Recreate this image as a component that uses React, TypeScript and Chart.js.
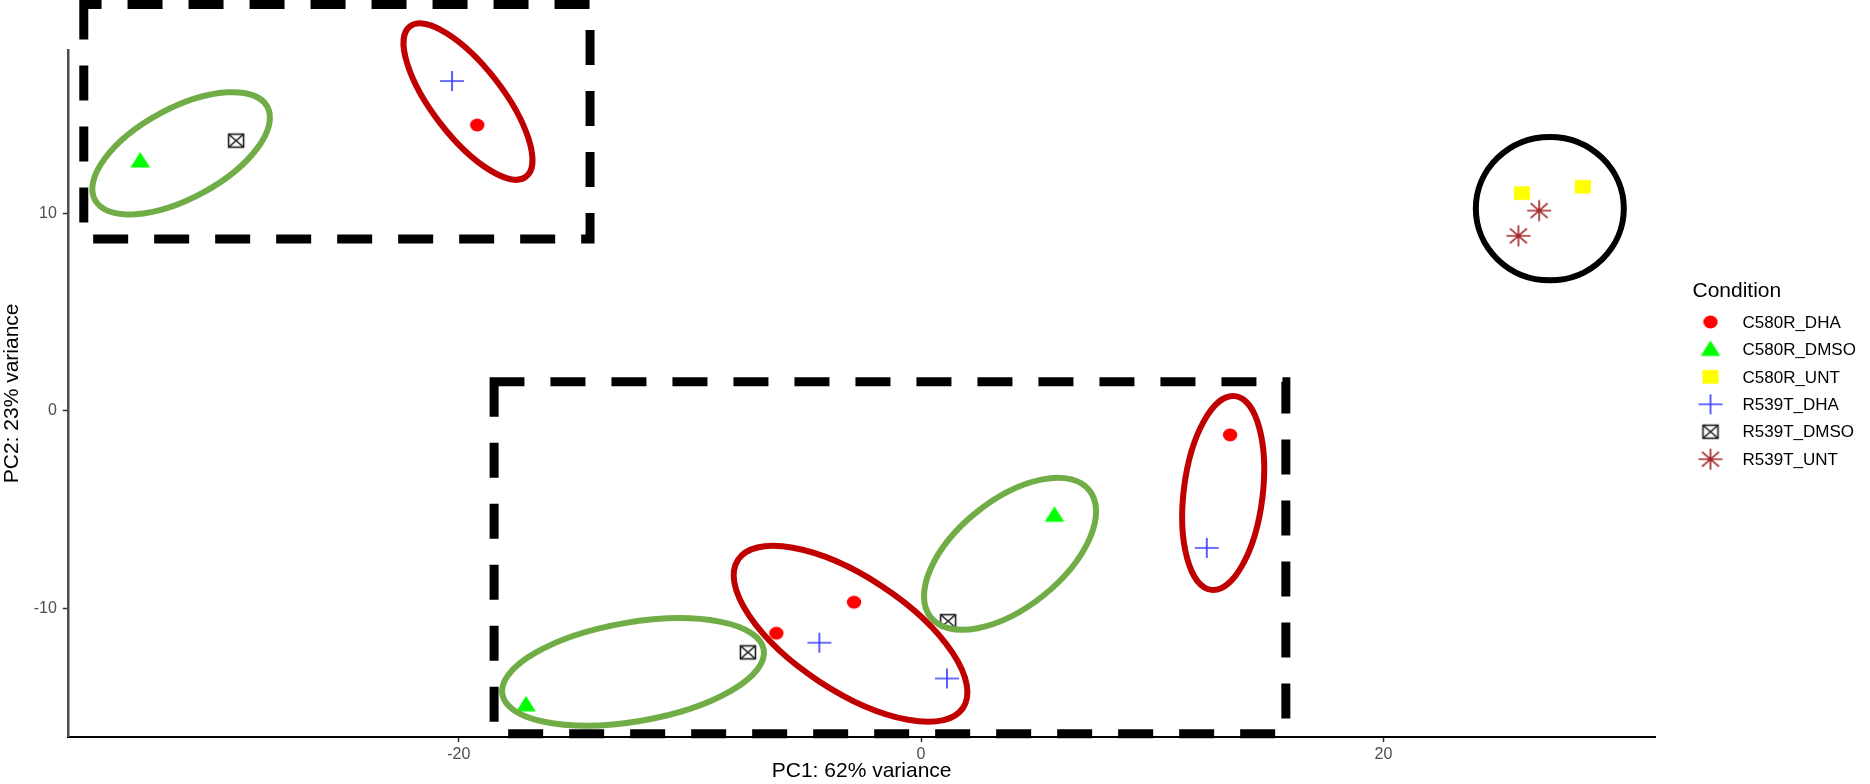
import React, { useEffect, useRef } from "react";
import { Chart, registerables } from "chart.js";

Chart.register(...registerables);

// ---------- data ----------
const conditions = ["C580R_DHA", "C580R_DMSO", "C580R_UNT", "R539T_DHA", "R539T_DMSO", "R539T_UNT"];

const c580rDhaX = [-19.2, 13.37, -6.26, -2.9];
const c580rDhaY = [14.46, -1.23, -11.27, -9.7];

const c580rDmsoX = [-33.78, 5.77, -17.09];
const c580rDmsoY = [12.64, -5.3, -14.9];

const c580rUntX = [25.99, 28.63];
const c580rUntY = [11.01, 11.34];

const r539tDhaX = [-20.29, 12.36, -4.4, 1.12];
const r539tDhaY = [16.69, -6.95, -11.75, -13.56];

const r539tDmsoX = [-29.63, -7.49, 1.17];
const r539tDmsoY = [13.67, -12.24, -10.66];

const r539tUntX = [26.74, 25.84];
const r539tUntY = [10.13, 8.85];

const xTicks = [-20, 0, 20];
const yTicks = [-10, 0, 10];
const xTitle = "PC1: 62% variance";
const yTitle = "PC2: 23% variance";
const legendTitle = "Condition";

const seriesX = [c580rDhaX, c580rDmsoX, c580rUntX, r539tDhaX, r539tDmsoX, r539tUntX];
const seriesY = [c580rDhaY, c580rDmsoY, c580rUntY, r539tDhaY, r539tDmsoY, r539tUntY];
const markerKinds = ["circle", "triangle", "square", "plus", "boxx", "star"];

// ---------- annotation overlay (data coordinates) ----------
const GREEN = "#70AD47";
const RED = "#C00000";
const dashedBoxes = [
  { x0: -36.22, x1: -14.32, y0: 8.69, y1: 20.57 },
  { x0: -18.47, x1: 15.78, y0: -16.36, y1: 1.46 },
];
const ellipses = [
  { cx: -32.01, cy: 13.03, a: 98, b: 45, angle: -28.4, color: GREEN },
  { cx: -19.6, cy: 15.65, a: 95, b: 35.2, angle: 52.3, color: RED },
  { cx: 27.2, cy: 10.23, a: 74, b: 71.7, angle: 0, color: "#000000" },
  { cx: 13.07, cy: -4.17, a: 97.6, b: 39.5, angle: -83, color: RED },
  { cx: 3.85, cy: -7.25, a: 101.6, b: 53.4, angle: -38.7, color: GREEN },
  { cx: -3.05, cy: -11.3, a: 134.7, b: 57, angle: 33.3, color: RED },
  { cx: -12.46, cy: -13.23, a: 132.6, b: 49.5, angle: -9.7, color: GREEN },
];

const FONT = "'Liberation Sans', Arial, Helvetica, sans-serif";

function makeMarker(kind: string): HTMLCanvasElement {
  const c = document.createElement("canvas");
  const W = 28, H = 26;
  c.width = W;
  c.height = H;
  const g = c.getContext("2d")!;
  const cx = W / 2, cy = H / 2;
  g.lineCap = "butt";
  switch (kind) {
    case "circle":
      g.fillStyle = "#ff0000";
      g.beginPath();
      g.ellipse(cx, cy, 7.2, 6.5, 0, 0, Math.PI * 2);
      g.fill();
      break;
    case "triangle":
      g.fillStyle = "#00ff00";
      g.beginPath();
      g.moveTo(cx, cy - 9);
      g.lineTo(cx + 9.8, cy + 6.5);
      g.lineTo(cx - 9.8, cy + 6.5);
      g.closePath();
      g.fill();
      break;
    case "square":
      g.fillStyle = "#ffff00";
      g.fillRect(cx - 8, cy - 6.8, 16, 13.6);
      break;
    case "plus":
      g.strokeStyle = "rgba(30,30,255,0.85)";
      g.lineWidth = 1.7;
      g.beginPath();
      g.moveTo(cx - 12, cy);
      g.lineTo(cx + 12, cy);
      g.moveTo(cx, cy - 10);
      g.lineTo(cx, cy + 10);
      g.stroke();
      break;
    case "boxx":
      g.strokeStyle = "#1a1a1a";
      g.lineWidth = 1.6;
      g.strokeRect(cx - 7.5, cy - 6.5, 15, 13);
      g.beginPath();
      g.moveTo(cx - 7.5, cy - 6.5);
      g.lineTo(cx + 7.5, cy + 6.5);
      g.moveTo(cx + 7.5, cy - 6.5);
      g.lineTo(cx - 7.5, cy + 6.5);
      g.stroke();
      break;
    case "star":
      g.strokeStyle = "#a52a2a";
      g.lineWidth = 1.7;
      g.beginPath();
      g.moveTo(cx - 12, cy);
      g.lineTo(cx + 12, cy);
      g.moveTo(cx, cy - 10.5);
      g.lineTo(cx, cy + 10.5);
      g.moveTo(cx - 8.5, cy - 7.4);
      g.lineTo(cx + 8.5, cy + 7.4);
      g.moveTo(cx + 8.5, cy - 7.4);
      g.lineTo(cx - 8.5, cy + 7.4);
      g.stroke();
      break;
  }
  return c;
}

export default function App() {
  const canvasRef = useRef<HTMLCanvasElement | null>(null);

  useEffect(() => {
    if (!canvasRef.current) return;
    const markers = markerKinds.map(makeMarker);

    const overlayPlugin = {
      id: "overlayShapes",
      afterDraw(chart: any) {
        const { ctx } = chart;
        const xs = chart.scales.x;
        const ys = chart.scales.y;
        ctx.save();
        ctx.strokeStyle = "#000";
        ctx.lineWidth = 9;
        ctx.setLineDash([35, 26]);
        ctx.lineCap = "butt";
        ctx.lineJoin = "miter";
        dashedBoxes.forEach((b) => {
          const l = xs.getPixelForValue(b.x0);
          const r = xs.getPixelForValue(b.x1);
          const t = ys.getPixelForValue(b.y1);
          const bt = ys.getPixelForValue(b.y0);
          ctx.beginPath();
          ctx.moveTo(l, t);
          ctx.lineTo(l, bt);
          ctx.lineTo(r, bt);
          ctx.lineTo(r, t);
          ctx.closePath();
          ctx.stroke();
        });
        ctx.setLineDash([]);
        ctx.lineWidth = 6;
        ellipses.forEach((e) => {
          ctx.beginPath();
          ctx.ellipse(
            xs.getPixelForValue(e.cx),
            ys.getPixelForValue(e.cy),
            e.a,
            e.b,
            (e.angle * Math.PI) / 180,
            0,
            Math.PI * 2
          );
          ctx.strokeStyle = e.color;
          ctx.stroke();
        });
        ctx.restore();
      },
    };

    const legendPlugin = {
      id: "conditionLegend",
      afterDraw(chart: any) {
        const { ctx, chartArea } = chart;
        const mid = (chartArea.top + chartArea.bottom) / 2;
        const x0 = chartArea.right;
        ctx.save();
        ctx.fillStyle = "#000";
        ctx.textBaseline = "middle";
        ctx.textAlign = "left";
        ctx.font = `21px ${FONT}`;
        ctx.fillText(legendTitle, x0 + 37.5, mid - 102);
        ctx.font = `17px ${FONT}`;
        conditions.forEach((name, i) => {
          const y = mid - 71.4 + i * 27.45;
          const m = markers[i];
          ctx.drawImage(m, x0 + 55.5 - m.width / 2, y - m.height / 2);
          ctx.fillText(name, x0 + 87.5, y + 1);
        });
        ctx.restore();
      },
    };

    const datasets = conditions.map((name, i) => ({
      label: name,
      data: seriesX[i].map((x, j) => ({ x, y: seriesY[i][j] })),
      pointStyle: markers[i],
      pointRadius: 6,
      showLine: false,
    }));

    const chart = new Chart(canvasRef.current, {
      type: "scatter",
      data: { datasets },
      options: {
        animation: false,
        responsive: true,
        maintainAspectRatio: false,
        devicePixelRatio: 1,
        events: [],
        layout: { padding: { left: 0, top: 50, right: 215, bottom: 0 } },
        font: { family: FONT },
        plugins: {
          legend: { display: false },
          tooltip: { enabled: false },
        },
        scales: {
          x: {
            type: "linear",
            min: -36.89,
            max: 31.75,
            afterBuildTicks: (s: any) => {
              s.ticks = xTicks.map((v) => ({ value: v }));
            },
            afterFit: (s: any) => {
              s.height = 47.3;
            },
            grid: {
              drawOnChartArea: false,
              drawTicks: true,
              tickLength: 5.5,
              tickColor: "#333333",
              tickWidth: 1.5,
            },
            border: { display: true, color: "#000000", width: 2 },
            ticks: {
              color: "#4d4d4d",
              font: { size: 16, family: FONT },
              padding: 3,
              maxRotation: 0,
              autoSkip: false,
            },
            title: {
              display: true,
              text: xTitle,
              color: "#000",
              font: { size: 21, family: FONT },
              padding: 0,
            },
          },
          y: {
            type: "linear",
            min: -16.51,
            max: 18.26,
            afterBuildTicks: (s: any) => {
              s.ticks = yTicks.map((v) => ({ value: v }));
            },
            afterFit: (s: any) => {
              s.width = 68.3;
            },
            grid: {
              drawOnChartArea: false,
              drawTicks: true,
              tickLength: 5.5,
              tickColor: "#333333",
              tickWidth: 1.5,
            },
            border: { display: true, color: "#4d4d4d", width: 2.5 },
            ticks: {
              color: "#4d4d4d",
              font: { size: 16, family: FONT },
              padding: 6,
            },
            title: {
              display: true,
              text: yTitle,
              color: "#000",
              font: { size: 21, family: FONT },
              padding: 0,
            },
          },
        },
      },
      plugins: [overlayPlugin, legendPlugin],
    } as any);

    return () => {
      chart.destroy();
    };
  }, []);

  return (
    <div
      style={{
        position: "fixed",
        left: 0,
        top: 0,
        width: "1870px",
        height: "784px",
        background: "#ffffff",
      }}
    >
      <canvas ref={canvasRef} />
    </div>
  );
}
